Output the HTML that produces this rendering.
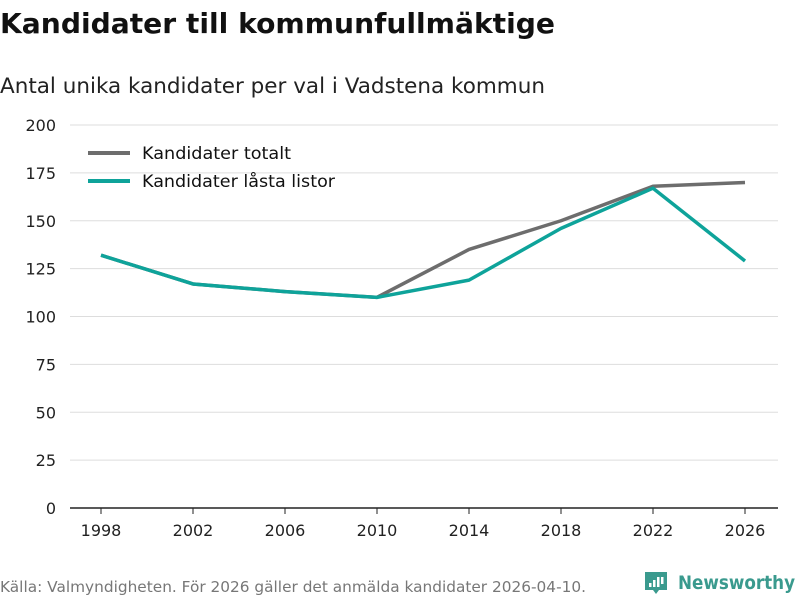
<!DOCTYPE html>
<html><head><meta charset="utf-8"><style>
body{margin:0;width:800px;height:600px;background:#fff;font-family:"DejaVu Sans","Liberation Sans",sans-serif;overflow:hidden}
svg text{font-family:"DejaVu Sans","Liberation Sans",sans-serif}
</style></head><body>
<svg width="800" height="600">
<text x="0" y="33" font-size="28" font-weight="bold" fill="#111" textLength="555" lengthAdjust="spacingAndGlyphs">Kandidater till kommunfullmäktige</text>
<text x="0" y="93" font-size="21" fill="#222" textLength="545" lengthAdjust="spacingAndGlyphs">Antal unika kandidater per val i Vadstena kommun</text>
<g id="grid"></g><g id="series"></g>
<g>
<line x1="88" y1="153" x2="130" y2="153" stroke="#6d6d6d" stroke-width="4"/>
<text x="142" y="159" font-size="17" fill="#111" textLength="149" lengthAdjust="spacingAndGlyphs">Kandidater totalt</text>
<line x1="88" y1="181" x2="130" y2="181" stroke="#0ea39a" stroke-width="4"/>
<text x="142" y="187" font-size="17" fill="#111" textLength="193" lengthAdjust="spacingAndGlyphs">Kandidater låsta listor</text>
</g>
<text x="0" y="592" font-size="15" fill="#777" textLength="586" lengthAdjust="spacingAndGlyphs">Källa: Valmyndigheten. För 2026 gäller det anmälda kandidater 2026-04-10.</text>
<g>
<path d="M645 572h22v18h-8l-3 4-3-4h-8z" fill="#3a9a8e"/>
<rect x="649" y="583" width="2.5" height="4" fill="#fff"/><rect x="653" y="580" width="2.5" height="7" fill="#fff"/><rect x="657" y="577" width="2.5" height="10" fill="#fff"/><rect x="661" y="577" width="2.5" height="7" fill="#fff"/>
<text x="678" y="589" font-size="19" font-weight="bold" fill="#3a9a8e" textLength="117" lengthAdjust="spacingAndGlyphs">Newsworthy</text>
</g>
</svg>
<script>
const years=[1998,2002,2006,2010,2014,2018,2022,2026];
const totalValues=[132,117,113,110,135,150,168,170];
const lockedValues=[132,117,113,110,119,146,167,129];
const yTicks=[0,25,50,75,100,125,150,175,200];
const ns="http://www.w3.org/2000/svg";
const x=i=>101+i*92;
const y=v=>508-v*383/200;
const grid=document.getElementById('grid'),ser=document.getElementById('series');
function mk(tag,attrs,parent){const e=document.createElementNS(ns,tag);for(const k in attrs)e.setAttribute(k,attrs[k]);parent.appendChild(e);return e;}
yTicks.forEach(t=>{
  const l=mk('line',{x1:70,x2:778,y1:y(t),y2:y(t),stroke:t===0?'#222':'#ddd','stroke-width':t===0?1.5:1},grid);
  
  
  const tx=mk('text',{x:56,y:y(t)+6,'font-size':16,fill:'#222','text-anchor':'end'},grid);tx.textContent=t;
  
  
});
years.forEach((yr,i)=>{
  const l=mk('line',{x1:x(i),x2:x(i),y1:508,y2:514,stroke:'#222'},grid);
  
  
  const tx=mk('text',{x:x(i),y:536,'font-size':16,fill:'#222','text-anchor':'middle'},grid);tx.textContent=yr;
  
  
});
function line(vals,color,name){
  const p=mk('polyline',{points:vals.map((v,i)=>x(i)+','+y(v)).join(' '),fill:'none',stroke:color,'stroke-width':3.5,'stroke-linejoin':'round'},ser);
  
  
}
line(totalValues,'#6d6d6d','line-total');
line(lockedValues,'#0ea39a','line-locked');
</script>
</body></html>
